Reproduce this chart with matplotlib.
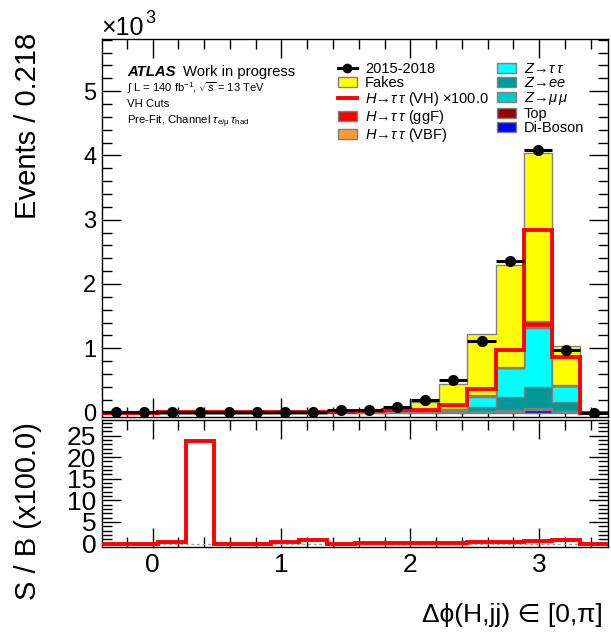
import numpy as np
import matplotlib
matplotlib.use("Agg")
import matplotlib.pyplot as plt
from matplotlib.patches import Patch
from matplotlib.lines import Line2D
from matplotlib.ticker import MultipleLocator, FuncFormatter

plt.rcParams['font.family'] = ['Liberation Sans', 'DejaVu Sans']
plt.rcParams['mathtext.fontset'] = 'custom'
plt.rcParams['mathtext.rm'] = 'Liberation Sans'
plt.rcParams['mathtext.it'] = 'Liberation Sans:italic'
plt.rcParams['mathtext.bf'] = 'Liberation Sans:bold'
plt.rcParams['mathtext.sf'] = 'Liberation Sans'

# 18 bins over [-pi/8, pi+pi/8]
edges = np.linspace(-np.pi / 8, np.pi + np.pi / 8, 19)
centers = 0.5 * (edges[:-1] + edges[1:])
width = edges[1] - edges[0]

# event yields per bin
data = [3, 3, 8, 4, 8, 8, 8, 10, 35, 45, 80, 190, 510, 1120, 2350, 4090, 980, 0]
fakes = [2, 3, 6, 0.3, 5, 6, 7, 10, 25, 35, 55, 140, 390, 960, 1590, 2620, 610, 0]
h_ggf = [0, 0, 0.5, 0, 0.3, 0.3, 0.5, 1, 1, 2, 4, 8, 10, 15, 20, 85, 10, 0]
h_vbf = [0, 0, 0, 0, 0, 0, 0, 0, 0, 0, 1, 1, 2, 3, 5, 15, 3, 0]
z_tautau = [0, 0, 0.3, 0, 0.3, 0.5, 0.5, 1, 2, 3, 5, 10, 25, 160, 450, 925, 250, 0]
z_ee = [0, 0, 0, 0, 0, 0, 0.3, 0.5, 1, 2, 3, 6, 10, 65, 200, 320, 140, 0]
z_mumu = [0, 0, 0, 0, 0, 0, 0, 0, 0.5, 1, 1, 2, 3, 10, 15, 25, 12, 0]
top = [0, 0, 0, 0, 0, 0, 0, 0, 0, 0.5, 0.5, 1, 2, 5, 8, 10, 5, 0]
diboson = [0, 0, 0, 0, 0, 0, 0, 0, 0.5, 0.5, 1, 2, 3, 8, 12, 40, 10, 0]
h_vh_x100 = [0, 0, 5, 5, 3, 4, 4, 10, 8, 20, 40, 45, 110, 370, 980, 2840, 870, 0]

# signal over background (x100)
s_over_b = [0, 0, 0.3, 23.8, 0, 0, 0.3, 0.8, 0, 0.2, 0.2, 0.2, 0.2, 0.4, 0.4, 0.5, 0.8, 0]

# stack from bottom to top
stack = [
    (diboson, '#0000ff'),
    (top, '#990000'),
    (z_mumu, '#00cccc'),
    (z_ee, '#009999'),
    (z_tautau, '#00ffff'),
    (h_vbf, '#ff9933'),
    (h_ggf, '#ff0000'),
    (fakes, '#ffff00'),
]

W, H = 611, 634
fig = plt.figure(figsize=(W / 100, H / 100), dpi=100)
ax1 = fig.add_axes([102 / W, 1 - 417 / H, 506 / W, (417 - 39) / H])
ax2 = fig.add_axes([102 / W, 1 - 547 / H, 506 / W, (547 - 420) / H])

bottom = np.zeros(len(centers))
for vals, col in stack:
    vals = np.asarray(vals, dtype=float) / 1e3
    ax1.stairs(bottom + vals, edges, baseline=bottom.copy(), fill=True,
               facecolor=col, edgecolor='#808080', linewidth=1, zorder=2)
    bottom = bottom + vals

ax1.stairs(np.asarray(h_vh_x100) / 1e3, edges, color='#ff0000', linewidth=2.8, zorder=3)
ax1.errorbar(centers, np.asarray(data) / 1e3, xerr=width / 2, fmt='o', color='black',
             ms=7, elinewidth=2.2, capsize=0, zorder=4)

ax1.set_xlim(edges[0], edges[-1])
ax1.set_ylim(-0.07, 5.81)
ax1.xaxis.set_major_locator(MultipleLocator(1))
ax1.xaxis.set_minor_locator(MultipleLocator(0.2))
ax1.yaxis.set_major_locator(MultipleLocator(1))
ax1.yaxis.set_minor_locator(MultipleLocator(0.2))
ax1.yaxis.set_major_formatter(FuncFormatter(lambda v, p: f'{v:.0f}'))
ax1.tick_params(labelbottom=False)

ax2.stairs(s_over_b, edges, color='#ff0000', linewidth=2.8, zorder=3)
ax2.axhline(0, color='#a0a0a0', linestyle=(0, (2, 2)), linewidth=1, zorder=2)
ax2.set_xlim(edges[0], edges[-1])
ax2.set_ylim(-0.8, 28.6)
ax2.xaxis.set_major_locator(MultipleLocator(1))
ax2.xaxis.set_minor_locator(MultipleLocator(0.2))
ax2.yaxis.set_major_locator(MultipleLocator(5))
ax2.yaxis.set_minor_locator(MultipleLocator(1))

for ax, fs in ((ax1, 17), (ax2, 19)):
    ax.tick_params(which='both', direction='in', top=True, right=True, width=1)
    ax.tick_params(which='major', length=14, labelsize=fs, pad=4)
    ax.tick_params(which='minor', length=7)
    for s in ax.spines.values():
        s.set_linewidth(1)

fig.text(28 / W, 1 - 33 / H, 'Events / 0.218', rotation=90, ha='center', va='top', fontsize=21)
fig.text(28 / W, 1 - 422 / H, 'S / B (x100.0)', rotation=90, ha='center', va='top', fontsize=21)
fig.text(603 / W, 1 - 622 / H, 'Δϕ(H,jj) ∈ [0,π]', ha='right', va='baseline', fontsize=19)
fig.text(101 / W, 1 - 35 / H, '×10', ha='left', va='baseline', fontsize=18)
fig.text(145 / W, 1 - 23 / H, '3', ha='left', va='baseline', fontsize=13)

fig.text(127 / W, 1 - 76 / H, 'ATLAS', fontsize=10.7, fontweight='bold', style='italic', va='baseline')
fig.text(183 / W, 1 - 76 / H, 'Work in progress', fontsize=10.7, va='baseline')
fig.text(127 / W, 1 - 92 / H, r'$\int$ L = 140 fb$^{-1}$, $\sqrt{s}$ = 13 TeV', fontsize=8, va='baseline')
fig.text(127 / W, 1 - 107 / H, 'VH Cuts', fontsize=8.2, va='baseline')
fig.text(127 / W, 1 - 124 / H, r'Pre-Fit, Channel $\tau_{\mathrm{e/\mu}}\,\tau_{\mathrm{had}}$', fontsize=8.2, va='baseline')

handles = [
    Line2D([], [], color='black', marker='o', ms=6, lw=2.2),
    Patch(facecolor='#ffff00', edgecolor='#808080'),
    Line2D([], [], color='#ff0000', lw=2.8),
    Patch(facecolor='#ff0000', edgecolor='#808080'),
    Patch(facecolor='#ff9933', edgecolor='#808080'),
    Patch(facecolor='#00ffff', edgecolor='#808080'),
    Patch(facecolor='#009999', edgecolor='#808080'),
    Patch(facecolor='#00cccc', edgecolor='#808080'),
    Patch(facecolor='#990000', edgecolor='#808080'),
    Patch(facecolor='#0000ff', edgecolor='#808080'),
]
labels = [
    '2015-2018',
    'Fakes',
    r'$H\!\rightarrow\!\tau\,\tau$ (VH) ×100.0',
    r'$H\!\rightarrow\!\tau\,\tau$ (ggF)',
    r'$H\!\rightarrow\!\tau\,\tau$ (VBF)',
    r'$Z\!\rightarrow\!\tau\,\tau$',
    r'$Z\!\rightarrow\!ee$',
    r'$Z\!\rightarrow\!\mu\,\mu$',
    'Top',
    'Di-Boson',
]
ax1.legend(handles, labels, ncol=2, loc='upper left', bbox_to_anchor=(338 / W, 1 - 62 / H),
           bbox_transform=fig.transFigure, frameon=False, fontsize=10.5,
           handlelength=1.3, handleheight=0.75, handletextpad=0.55, columnspacing=0.55,
           labelspacing=0.0, borderpad=0, borderaxespad=0)

fig.savefig('out.png', dpi=100)
